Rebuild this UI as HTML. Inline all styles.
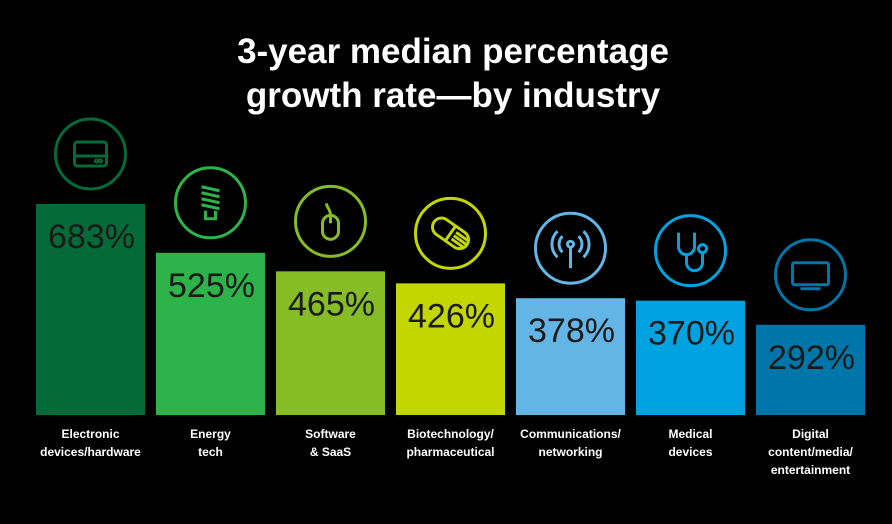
<!DOCTYPE html>
<html><head><meta charset="utf-8">
<style>
html,body{margin:0;padding:0;background:#000;}
#wrap{position:relative;width:892px;height:524px;background:#000;overflow:hidden;font-family:"Liberation Sans",sans-serif;}
#title{position:absolute;left:0;width:906px;top:30px;text-align:center;color:#fff;font-weight:bold;font-size:35px;line-height:44px;}
svg{position:absolute;left:0;top:0;}
</style></head><body>
<div id="wrap">
<div id="title">3-year median percentage<br>growth rate—by industry</div>
<svg id="chart" width="892" height="524"></svg>
</div>
<script>
const categories=[["Electronic","devices/hardware"],["Energy","tech"],["Software","& SaaS"],["Biotechnology/","pharmaceutical"],["Communications/","networking"],["Medical","devices"],["Digital","content/media/","entertainment"]];
const values=[683,525,465,426,378,370,292];
const valueLabels=["683%","525%","465%","426%","378%","370%","292%"];
const colors=["#046a38","#2db34a","#86bc25","#c4d600","#62b5e5","#00a3e0","#0076a8"];
const NS="http://www.w3.org/2000/svg";
const svg=document.getElementById('chart');
const baseY=415, scale=0.309, x0=36, pitch=120, bw=109;
function xPos(i){return x0+i*pitch;}
function yPos(v){return baseY-v*scale;}
function mk(t,a,p){const e=document.createElementNS(NS,t);for(const k in a)e.setAttribute(k,a[k]);(p||svg).appendChild(e);return e;}
const icons=[
 c=>`<rect x="-16" y="-12" width="32" height="24" rx="3"/><line x1="-16" y1="2" x2="16" y2="2"/><circle cx="6" cy="7" r="1"/><circle cx="10" cy="7" r="1"/>`,
 c=>`<path d="M-9,-16 L9,-12 M-9,-10 L9,-6 M-9,-4 L9,0 M-9,2 L9,6 M-5,8 L-5,16 L5,16 L5,8"/>`,
 c=>`<rect x="-8" y="-6" width="16" height="24" rx="8"/><line x1="0" y1="-6" x2="0" y2="2"/><path d="M0,-6 C0,-12 -4,-14 -4,-18"/>`,
 c=>`<g transform="rotate(35)"><rect x="-20" y="-9" width="40" height="18" rx="9"/><line x1="0" y1="-9" x2="0" y2="9"/><line x1="4" y1="-4" x2="20" y2="-4"/><line x1="4" y1="0" x2="20" y2="0"/><line x1="4" y1="4" x2="20" y2="4"/></g>`,
 c=>`<circle cx="0" cy="-4" r="3"/><path d="M-8,-12 A11,11 0 0 0 -8,4 M8,-12 A11,11 0 0 1 8,4 M-13,-17 A18,18 0 0 0 -13,9 M13,-17 A18,18 0 0 1 13,9"/><line x1="0" y1="-1" x2="0" y2="20"/>`,
 c=>`<path d="M-12,-18 L-12,-4 A8,8 0 0 0 4,-4 L4,-18 M-4,4 L-4,12 A8,8 0 0 0 12,12 L12,2"/><circle cx="12" cy="-2" r="4"/>`,
 c=>`<rect x="-18" y="-12" width="36" height="22" rx="2"/><line x1="-10" y1="14" x2="10" y2="14"/>`
];
values.forEach((v,i)=>{
 const x=xPos(i), y=yPos(v);
 const r=mk('rect',{x:x,y:y,width:bw,height:baseY-y,fill:colors[i]});
 
 
 const t=mk('text',{x:x+12,y:y+44,fill:'#1a1a1a','font-size':'34','font-family':'Liberation Sans, sans-serif'});
 t.textContent=valueLabels[i];
 
 
 const g=mk('g',{transform:`translate(${x+bw/2},${y-50})`,stroke:colors[i],fill:'none','stroke-width':'3'});
 
 
 mk('circle',{cx:0,cy:0,r:35},g);
 g.insertAdjacentHTML('beforeend',icons[i]());
 const lab=mk('text',{x:x+bw/2,y:438,fill:'#fff','font-size':'12','font-weight':'bold','text-anchor':'middle','font-family':'Liberation Sans, sans-serif'});
 
 
 categories[i].forEach((ln,j)=>{const ts=mk('tspan',{x:x+bw/2,dy:j?18:0},lab);ts.textContent=ln;});
});
</script>
</body></html>
